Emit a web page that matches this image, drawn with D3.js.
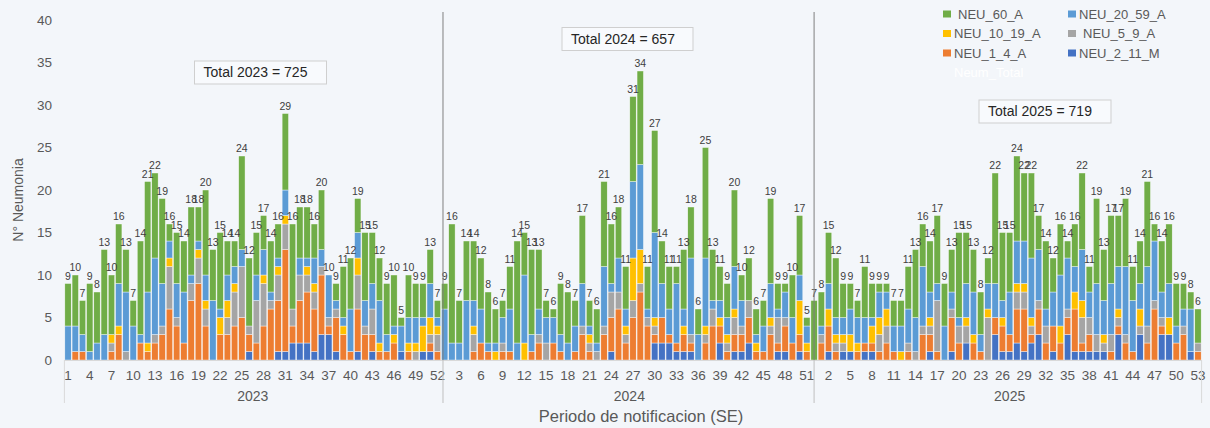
<!DOCTYPE html>
<html>
<head>
<meta charset="utf-8">
<script src="https://cdn.jsdelivr.net/npm/d3@7"></script>
<style>
  html, body { margin: 0; padding: 0; background: #f3f6fa; }
  svg { display: block; font-family: "Liberation Sans", Arial, sans-serif; }
</style>
</head>
<body>
<svg id="chart" width="1210" height="428"></svg>
<script>
// ---------------- DATA ----------------
const years = ["2023", "2024", "2025"];
const weeksPerYear = [52, 52, 53];
const yearTotals = [725, 657, 719];
const yTicks = [0, 5, 10, 15, 20, 25, 30, 35, 40];

// Series order in the stack (bottom -> top)
const seriesNames = ["NEU_2_11_M", "NEU_1_4_A", "NEU_5_9_A", "NEU_10_19_A", "NEU_20_59_A", "NEU_60_A"];
const seriesColors = ["#4472c4", "#ed7d31", "#a5a5a5", "#ffc000", "#5b9bd5", "#70ad47"];

// values per epidemiological week: 2023 (52) + 2024 (52) + 2025 (53)
const NEU_2_11_M = [
  0,0,0,0,0,0,0,0,0,0, 0,0,0,0,0,0,0,0,0,0, 0,0,0,0,0,1,0,0,0,1, 1,2,2,2,1,3,3,1,0,0, 1,0,1,0,0,0,1,0,0,1, 1,0,
  0,0,0,0,0,0,0,0,0,0, 0,0,0,0,0,0,0,0,0,0, 0,0,0,1,0,0,0,0,0,2, 2,2,1,1,1,0,0,0,2,0, 1,1,2,0,0,0,1,1,0,1, 0,0,
  0,1,0,1,1,0,1,1,0,0, 0,0,0,0,0,1,0,0,1,0, 2,0,0,0,3,1,1,2,1,2, 3,0,1,0,3,1,1,1,1,1, 0,3,0,0,3,0,0,3,3,0, 0,1,0
];
const NEU_1_4_A = [
  0,1,1,0,0,0,1,3,0,0, 2,1,2,3,6,4,2,7,9,4, 0,3,3,4,5,2,2,4,6,6, 12,2,5,6,5,7,1,4,3,1, 5,3,2,1,1,2,0,1,0,0, 1,1,
  0,0,0,0,1,2,1,0,1,1, 0,0,1,2,0,2,1,0,1,3, 1,0,3,4,6,2,5,8,4,1, 3,1,1,2,1,0,2,4,2,1, 2,2,3,1,1,3,1,3,2,2, 1,0,
  2,3,1,0,0,1,1,1,1,2, 1,0,1,0,3,2,1,0,4,2, 0,2,1,0,2,3,2,4,5,1, 3,2,3,2,2,5,1,2,0,0, 1,1,2,1,0,2,6,1,0,2, 3,0,1
];
const NEU_5_9_A = [
  0,0,0,0,0,0,1,0,1,0, 0,0,1,1,5,1,0,2,3,2, 0,0,2,4,6,1,5,5,1,3, 3,2,3,2,2,1,1,1,0,0, 4,1,3,0,0,0,0,0,1,0, 1,2,
  0,0,0,0,2,0,0,0,1,0, 0,0,0,1,2,0,0,0,0,1, 1,1,1,3,2,1,2,1,1,1, 0,0,0,0,1,0,1,2,0,1, 2,1,2,0,0,1,3,1,0,0, 0,0,
  1,0,1,1,0,0,0,0,2,2, 0,0,1,1,1,1,6,0,1,2, 2,0,0,5,0,0,0,2,2,1, 1,2,0,0,1,0,3,2,2,1, 2,1,1,0,1,2,1,1,0,0, 1,0,1
];
const NEU_10_19_A = [
  0,0,0,0,0,0,1,1,0,0, 0,1,0,0,1,0,0,0,1,1, 0,2,2,1,0,0,0,1,0,1, 1,0,0,1,1,0,0,0,1,0, 2,0,0,1,0,1,0,1,1,3, 2,1,
  0,0,0,0,1,0,0,1,0,0, 0,2,0,0,0,0,0,0,0,0, 1,0,0,0,0,1,5,4,0,1, 0,0,0,1,0,0,1,0,1,1, 1,0,0,1,0,1,0,0,0,4, 1,0,
  0,2,1,1,2,1,0,2,2,2, 0,1,0,0,0,1,0,0,0,0, 1,1,0,1,0,1,0,1,1,1, 0,0,0,2,0,2,2,0,0,1, 0,1,0,0,2,0,0,0,2,0, 0,0,0
];
const NEU_20_59_A = [
  4,3,2,1,2,3,0,5,7,4, 1,6,9,5,2,4,6,1,1,3, 7,1,3,2,2,0,3,3,1,1, 3,0,2,1,3,2,5,1,1,5, 3,3,3,5,2,1,3,3,3,1, 4,1,
  6,2,2,7,3,4,1,1,3,5, 2,8,2,3,3,3,2,2,3,5, 1,1,7,1,4,2,9,10,1,10, 4,3,7,2,9,3,8,1,2,2, 5,3,0,1,3,4,1,3,3,3, 2,0,
  1,3,2,2,3,3,3,1,3,2, 3,3,4,4,7,3,2,4,2,1, 4,5,2,3,4,2,5,5,5,7, 6,2,4,6,6,3,6,3,6,4, 6,5,8,6,3,7,7,3,4,2, 2,5,0
];
const NEU_60_A = [
  5,6,4,8,6,10,7,7,5,3, 11,13,10,10,2,6,6,8,4,10, 6,9,4,3,11,8,5,4,6,4, 9,10,6,6,4,7,0,2,6,6, 4,8,6,5,6,6,1,5,4,4, 4,2,
  3,14,5,7,7,6,6,4,2,5, 12,5,10,7,2,1,6,6,3,8, 3,4,10,7,6,5,10,11,5,12, 5,5,2,7,6,3,13,6,4,4, 9,3,5,3,3,10,3,1,5,7, 1,7,
  4,6,7,4,3,2,6,4,1,1, 3,3,5,8,5,6,8,5,5,10, 6,5,5,3,13,8,7,10,8,10, 4,8,4,6,2,5,9,3,10,6, 8,6,8,4,5,10,2,6,7,5, 3,2,4
];
const seriesValues = [NEU_2_11_M, NEU_1_4_A, NEU_5_9_A, NEU_10_19_A, NEU_20_59_A, NEU_60_A];

// ---------------- BUILD TABLE ----------------
const rows = [];
years.forEach((yr, yi) => {
  for (let w = 1; w <= weeksPerYear[yi]; w++) rows.push({ year: yr, week: w });
});
rows.forEach((r, i) => {
  r.idx = i;
  seriesNames.forEach((s, si) => { r[s] = seriesValues[si][i]; });
  r.total = d3.sum(seriesNames, s => r[s]);
});

// ---------------- SCALES ----------------
const svg = d3.select("#chart");
const plotLeft = 64.4, plotRight = 1201.6, baseY = 360, topY = 20;
const x = d3.scaleBand().domain(rows.map(r => r.idx)).range([plotLeft, plotRight])
  .paddingInner(0.12).paddingOuter(0.06);
const y = d3.scaleLinear().domain([0, 40]).range([baseY, topY]);
const textColor = "#595959";

// ---------------- BARS ----------------
const stack = d3.stack().keys(seriesNames);
const stacked = stack(rows);
svg.append("g").selectAll("g").data(stacked).join("g")
  .attr("fill", (d, i) => seriesColors[i])
  .selectAll("rect").data(d => d.filter(p => p[1] - p[0] > 0)).join("rect")
  .attr("x", d => x(d.data.idx))
  .attr("width", x.bandwidth())
  .attr("y", d => y(d[1]))
  .attr("height", d => y(d[0]) - y(d[1]))
  .attr("stroke", "#ffffff").attr("stroke-width", 0.5).attr("stroke-opacity", 0.8);

// data labels
svg.append("g").selectAll("text").data(rows).join("text")
  .attr("x", d => x(d.idx) + x.bandwidth() / 2)
  .attr("y", d => y(d.total) - 4)
  .attr("text-anchor", "middle")
  .attr("font-size", 10.5)
  .attr("fill", "#404040")
  .text(d => d.total);

// ---------------- AXES ----------------
svg.append("line").attr("x1", plotLeft).attr("x2", plotRight)
  .attr("y1", baseY + 0.5).attr("y2", baseY + 0.5)
  .attr("stroke", "#d9d9d9").attr("stroke-width", 1);

const yAxis = d3.axisLeft(y).tickValues(yTicks).tickSize(0).tickPadding(10);
const gy = svg.append("g").attr("transform", "translate(62,0)").call(yAxis);
gy.select(".domain").remove();
gy.selectAll("text").attr("font-size", 13.5).attr("fill", textColor)
  .attr("font-family", "Liberation Sans, Arial, sans-serif");

const xAxis = d3.axisBottom(x)
  .tickValues(rows.filter(r => r.idx % 3 === 0).map(r => r.idx))
  .tickFormat(i => rows[i].week)
  .tickSize(0).tickPadding(10);
const gx = svg.append("g").attr("transform", `translate(0,${baseY})`).call(xAxis);
gx.select(".domain").remove();
gx.selectAll("text").attr("font-size", 13.5).attr("fill", textColor)
  .attr("font-family", "Liberation Sans, Arial, sans-serif");

// group labels and dividers
let start = 0;
years.forEach((yr, yi) => {
  const n = weeksPerYear[yi];
  const a = x(start), b = x(start + n - 1) + x.bandwidth();
  svg.append("text").attr("x", (a + b) / 2).attr("y", 401)
    .attr("text-anchor", "middle").attr("font-size", 14).attr("fill", textColor).text(yr);
  start += n;
});
[plotLeft, plotRight].forEach(px => {
  svg.append("line").attr("x1", px).attr("x2", px).attr("y1", baseY).attr("y2", 403)
    .attr("stroke", "#d9d9d9").attr("stroke-width", 1);
});
// year separator lines
const sepX = [x(52) + 1.5, x(103) + x.bandwidth() / 2];
sepX.forEach(px => {
  svg.append("line").attr("x1", px).attr("x2", px).attr("y1", 12).attr("y2", baseY)
    .attr("stroke", "#7f7f7f").attr("stroke-width", 1);
  svg.append("line").attr("x1", px).attr("x2", px).attr("y1", baseY).attr("y2", 403)
    .attr("stroke", "#bfbfbf").attr("stroke-width", 1);
});

// axis titles
svg.append("text").attr("x", 641).attr("y", 422).attr("text-anchor", "middle")
  .attr("font-size", 16.5).attr("fill", textColor).text("Periodo de notificacion (SE)");
svg.append("text").attr("transform", "translate(23,200) rotate(-90)")
  .attr("text-anchor", "middle").attr("font-size", 14).attr("fill", textColor).text("N° Neumonia");

// ---------------- TOTAL BOXES ----------------
const boxes = [
  { x: 194.5, y: 61, w: 132, h: 23 },
  { x: 562, y: 27.5, w: 131, h: 23 },
  { x: 979, y: 100, w: 132, h: 23 }
];
boxes.forEach((b, i) => {
  svg.append("rect").attr("x", b.x).attr("y", b.y).attr("width", b.w).attr("height", b.h)
    .attr("fill", "#f8fafd").attr("stroke", "#cfcfcf").attr("stroke-width", 1);
  svg.append("text").attr("x", b.x + 9).attr("y", b.y + 16)
    .attr("font-size", 14).attr("fill", "#262626")
    .text(`Total ${years[i]} = ${yearTotals[i]}`);
});

// ---------------- LEGEND ----------------
const legendItems = [
  { name: "NEU_60_A", color: "#70ad47", sx: 943, tx: 958, row: 0 },
  { name: "NEU_20_59_A", color: "#5b9bd5", sx: 1068, tx: 1079, row: 0 },
  { name: "NEU_10_19_A", color: "#ffc000", sx: 943, tx: 954, row: 1 },
  { name: "NEU_5_9_A", color: "#a5a5a5", sx: 1068, tx: 1083, row: 1 },
  { name: "NEU_1_4_A", color: "#ed7d31", sx: 943, tx: 954, row: 2 },
  { name: "NEU_2_11_M", color: "#4472c4", sx: 1068, tx: 1079, row: 2 }
];
const lg = svg.append("g");
legendItems.forEach(it => {
  const cy = 14 + it.row * 19.5;
  lg.append("rect").attr("x", it.sx).attr("y", cy - 3.5).attr("width", 8).attr("height", 7).attr("fill", it.color);
  lg.append("text").attr("x", it.tx).attr("y", cy + 4.5).attr("font-size", 13).attr("fill", textColor).text(it.name);
});
lg.append("text").attr("x", 954).attr("y", 77).attr("font-size", 13).attr("fill", "#ffffff").text("Neum_Total");
</script>
</body>
</html>
